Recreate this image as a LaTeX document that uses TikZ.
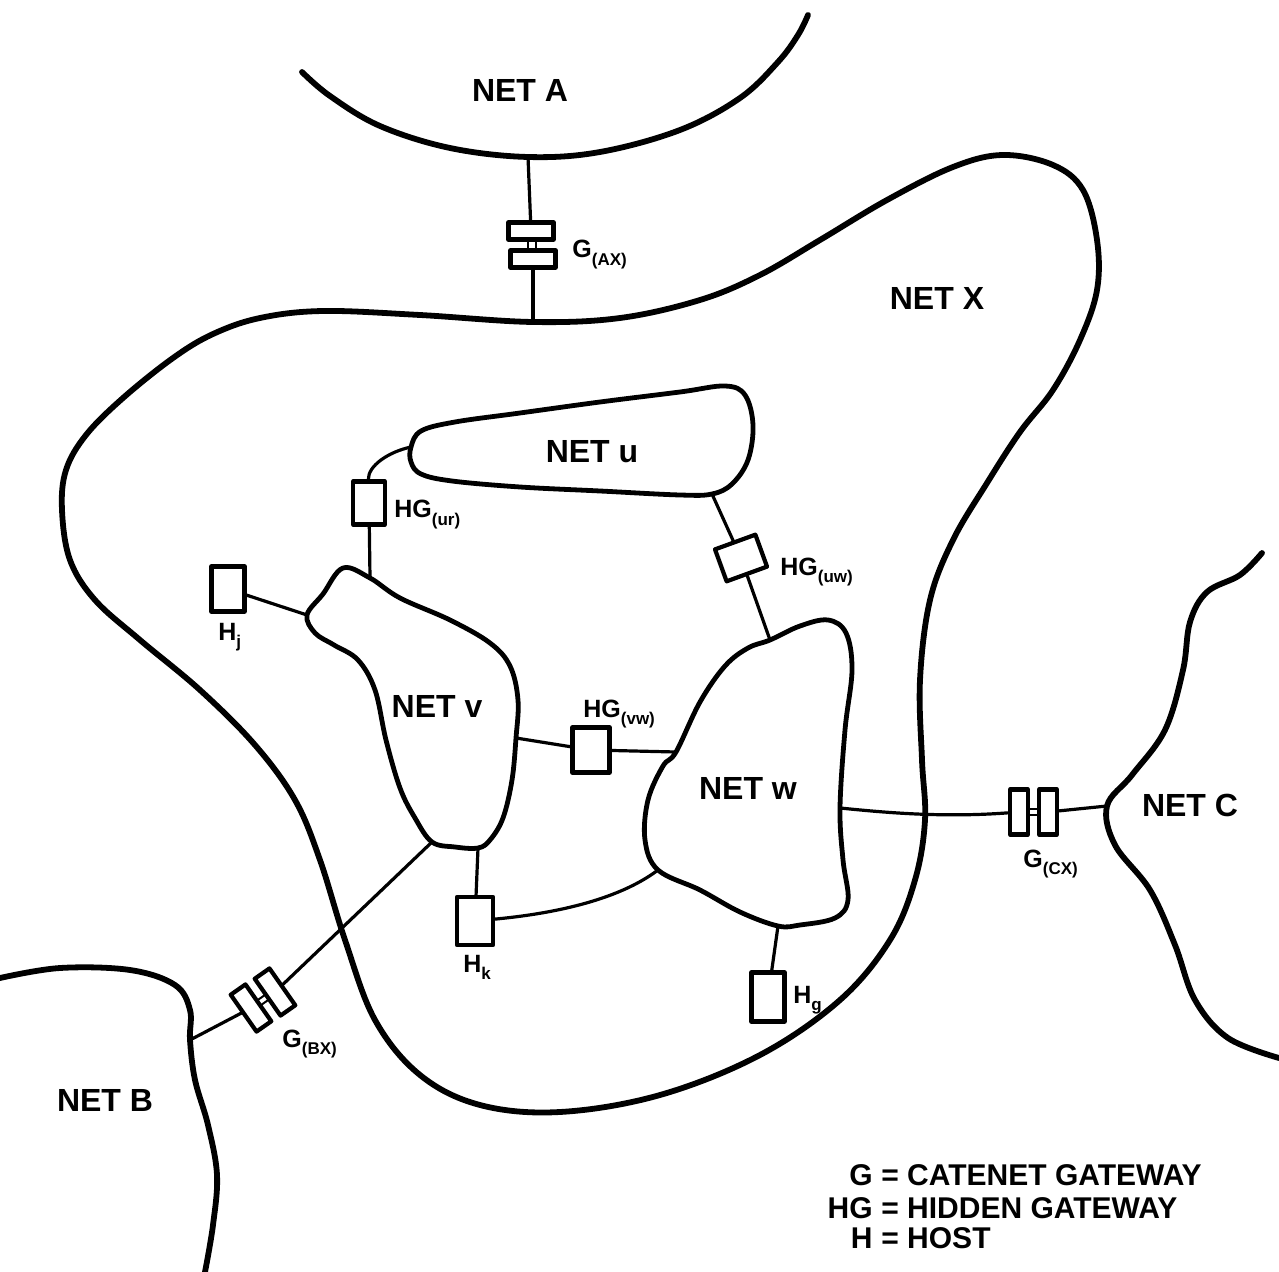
\documentclass[tikz,border=0pt]{standalone}
\usepackage{fontspec}
\setmainfont{Liberation Sans}
\newcommand{\subtag}[1]{\raisebox{-0.55ex}{\fontsize{8.5pt}{9pt}\selectfont #1}}

\begin{document}
\begin{tikzpicture}[
  x=0.5pt,y=-0.5pt,line join=round,line cap=round,
  netedge/.style={line width=2.9pt},
  subnet/.style={line width=2.4pt},
  link/.style={line width=1.6pt},
  gwbox/.style={draw,line width=2.1pt,fill=white,inner sep=0pt},
  hgbox/.style={gwbox,minimum width=16pt,minimum height=21.5pt},
  hostbox/.style={gwbox,minimum width=17pt,minimum height=23.5pt},
  gbar/.style={gwbox,minimum width=22.5pt,minimum height=8.5pt},
  gvbar/.style={gwbox,minimum width=9pt,minimum height=22.5pt},
  gtie/.style={draw,line width=1pt,fill=white,inner sep=0pt},
  netlabel/.style={font=\fontsize{16pt}{18pt}\selectfont\bfseries,inner sep=0pt},
  tag/.style={font=\fontsize{12.5pt}{14pt}\selectfont\bfseries,inner sep=0pt,anchor=base west},
  keytext/.style={font=\fontsize{15pt}{17pt}\selectfont\bfseries,inner sep=0pt}
]
\useasboundingbox (0,0) rectangle (1279,1272);
% ---------- attachment points on the nets
\coordinate (a1) at (528,157);
\coordinate (x1) at (533,322);
\coordinate (b1) at (190,1040);
\coordinate (c1) at (1107,806);
\coordinate (u1) at (411,447);
\coordinate (u2) at (712,494);
\coordinate (v1) at (370,578);
\coordinate (v2) at (307,615);
\coordinate (v4) at (516,738);
\coordinate (v5) at (478,848);
\coordinate (v6) at (432,842);
\coordinate (w1) at (770,640);
\coordinate (w2) at (676,752);
\coordinate (w3) at (840,808);
\coordinate (w4) at (658,870);
\coordinate (w5) at (778,926);
% ---------- outer nets
\draw[netedge] plot[smooth,tension=0.6] coordinates {(302,72) (330,96) (380,126) (450,148) (a1)
  (600,152) (680,130) (740,98) (778,62) (798,35) (808,15)};
\draw[netedge] plot[smooth,tension=0.6] coordinates {(0,978) (60,968) (130,970) (175,985) (190,1010) (b1)
  (195,1080) (208,1125) (217,1175) (213,1225) (205,1272)};
\draw[netedge] plot[smooth,tension=0.6] coordinates {(1262,553) (1240,575) (1207,592) (1190,622) (1183,670)
  (1165,730) (1132,775) (c1) (1115,845) (1150,890) (1175,945) (1195,1000) (1228,1038) (1279,1058)};
% ---------- net X
\draw[netedge] plot[smooth cycle,tension=0.6] coordinates {(x1) (620,318) (700,300) (760,275) (820,240)
  (887,200) (953,167) (1003,155) (1053,165) (1083,190) (1097,240) (1097,290) (1080,340) (1053,390)
  (1020,432) (987,483) (953,540) (930,600) (920,680) (922,760) (925,820) (915,880) (890,940)
  (840,1000) (760,1055) (660,1095) (560,1112) (480,1105) (420,1075) (375,1020) (345,940) (320,860)
  (295,800) (255,745) (200,690) (140,640) (95,600) (70,560) (62,510) (66,470) (86,435) (123,398)
  (173,358) (213,334) (260,318) (323,311) (420,315)};
% ---------- hidden nets
\draw[subnet] plot[smooth cycle,tension=0.6] coordinates {(u1) (421,431) (455,422) (520,413) (600,402)
  (680,392) (725,386) (745,395) (753,425) (748,460) (732,484) (u2) (680,495) (600,491) (520,487)
  (452,481) (421,474) (411,462)};
\draw[subnet] plot[smooth cycle,tension=0.6] coordinates {(v2) (323,594) (343,568) (v1) (400,598)
  (450,620) (490,643) (510,666) (518,700) (v4) (512,780) (503,818) (490,840) (v5) (455,847) (v6)
  (415,818) (400,788) (386,740) (375,690) (358,660) (334,645) (315,633)};
\draw[subnet] plot[smooth cycle,tension=0.6] coordinates {(w1) (800,626) (828,620) (846,633) (852,670)
  (845,730) (w3) (843,860) (848,900) (835,918) (800,925) (w5) (740,912) (700,890) (w4) (645,840)
  (648,800) (663,766) (w2) (700,702) (725,666) (748,648)};
% ---------- gateways and hosts
\node[gtie,minimum width=4pt,minimum height=6pt] (gaxT) at (532,245) {};
\node[gbar] (gaxA) at (531,231) {};
\node[gbar] (gaxB) at (533,259) {};
\node[gtie,minimum width=6pt,minimum height=3pt] (gcxT) at (1033,812) {};
\node[gvbar] (gcxA) at (1019,812) {};
\node[gvbar] (gcxB) at (1048,812) {};
\node[gtie,minimum width=6pt,minimum height=3pt,rotate=35] (gbxT) at (263,1000) {};
\node[gvbar,rotate=35] (gbxA) at (251,1008) {};
\node[gvbar,rotate=35] (gbxB) at (275,992) {};
\node[hgbox] (hgur) at (369,503) {};
\node[hgbox,minimum width=21.5pt,minimum height=17pt,rotate=20] (hguw) at (741,558) {};
\node[hgbox,minimum width=18.5pt,minimum height=22.5pt] (hgvw) at (591,750) {};
\node[hostbox,minimum width=16.5pt,minimum height=22.5pt] (hj) at (228,589) {};
\node[hostbox,minimum width=18pt,minimum height=24pt] (hk) at (475,921) {};
\node[hostbox,minimum width=16.5pt,minimum height=24.5pt] (hg) at (768,997) {};
% ---------- connectors
\draw[link] (a1) -- (gaxA);
\draw[link] (gaxB) -- (x1);
\draw[link] (b1) -- (gbxA);
\draw[link] (gbxB) -- (v6);
\draw[link] (w3) .. controls (880,812) and (940,818) .. (gcxA);
\draw[link] (gcxB) -- (c1);
\draw[link] (u1) .. controls (388,452) and (368,466) .. (hgur);
\draw[link] (hgur) -- (v1);
\draw[link] (hj) -- (v2);
\draw[link] (u2) -- (hguw) -- (w1);
\draw[link] (v4) -- (hgvw) -- (w2);
\draw[link] (v5) -- (hk);
\draw[link] (hk) .. controls (570,912) and (625,895) .. (w4);
\draw[link] (w5) -- (hg);
% ---------- labels
\node[netlabel] (lA) at (520,90) {NET A};
\node[netlabel] (lX) at (937,298) {NET X};
\node[netlabel] (lu) at (592,452) {NET u};
\node[netlabel] (lv) at (437,706) {NET v};
\node[netlabel] (lw) at (748,788) {NET w};
\node[netlabel] (lC) at (1190,805) {NET C};
\node[netlabel] (lB) at (105,1100) {NET B};
\node[tag] (tax) at (572,258) {G\subtag{(AX)}};
\node[tag] (tur) at (394,518) {HG\subtag{(ur)}};
\node[tag] (tuw) at (780,575) {HG\subtag{(uw)}};
\node[tag] (tvw) at (583,717) {HG\subtag{(vw)}};
\node[tag] (tcx) at (1023,867) {G\subtag{(CX)}};
\node[tag] (tbx) at (282,1047) {G\subtag{(BX)}};
\node[tag] (tj) at (218,640) {H\subtag{j}};
\node[tag] (tk) at (463,972) {H\subtag{k}};
\node[tag] (tg) at (793,1003) {H\subtag{g}};
% ---------- key
\node[keytext,anchor=base east] (kG) at (873,1185) {G};
\node[keytext,anchor=base west] (kGt) at (881,1185) {= CATENET GATEWAY};
\node[keytext,anchor=base east] (kHG) at (873,1218) {HG};
\node[keytext,anchor=base west] (kHGt) at (881,1218) {= HIDDEN GATEWAY};
\node[keytext,anchor=base east] (kH) at (873,1248) {H};
\node[keytext,anchor=base west] (kHt) at (881,1248) {= HOST};
\end{tikzpicture}
\end{document}
